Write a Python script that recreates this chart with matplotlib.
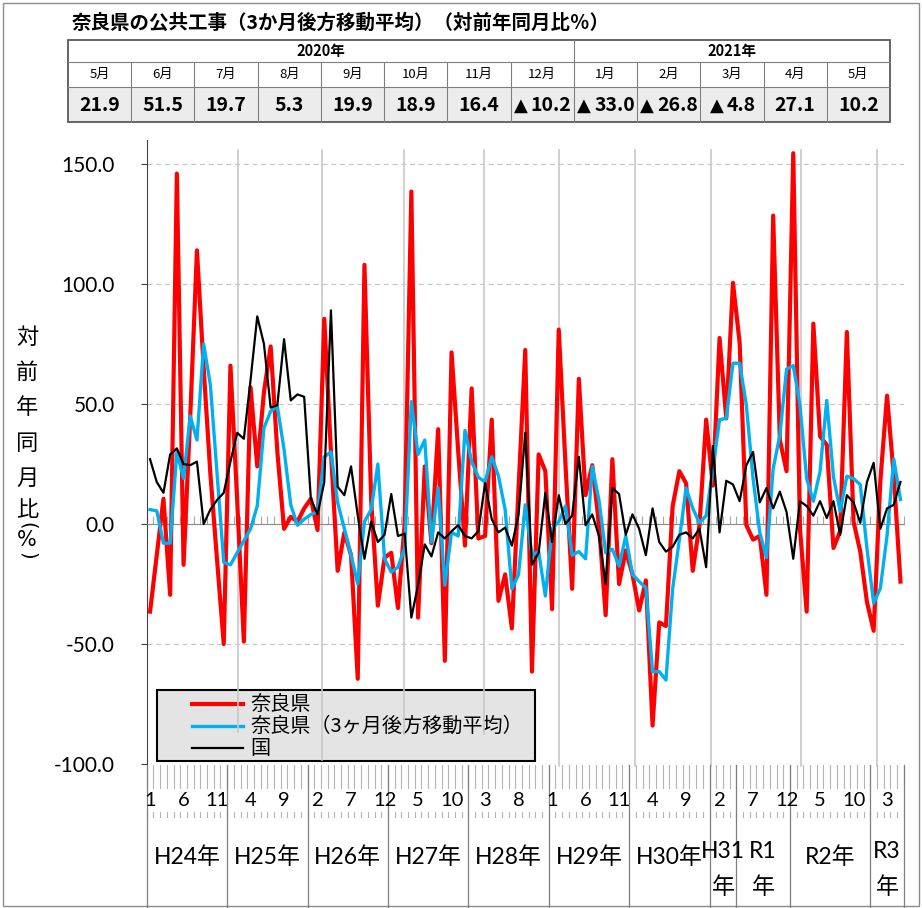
import numpy as np
import matplotlib.pyplot as plt
import matplotlib.transforms as mtransforms
from matplotlib.patches import Rectangle
from matplotlib.lines import Line2D

plt.rcParams['font.family'] = ['Noto Sans CJK JP', 'DejaVu Sans']

# 対前年同月比（%） H24年1月 ～ R3年5月
nara = [-36.5, -13, 10.5, -29.5, 146, -17, 45, 114, 65, 21, -15, -50,
        66, 10, -49, 57, 24, 55, 74, 30, -2, 3, 1, 6.5,
        10.5, -2.5, 85.5, 30, -19.5, -3.5, -13, -64.5, 108, 10, -34, -14,
        -12, -35, 0, 138.5, -39, 24, -8, 39.5, -57, 71.5, 30, -9,
        56.5, -6, -5, 43.5, -32, -21, -43.5, 15, 72.5, -61.5, 29, 22,
        -35.5, 81, 25, -27, 60.5, 12, 24.5, 0, -38, 27, -25, -11,
        -21, -36, -23.5, -84, -41, -42.5, 7.5, 22, 17, -19.5, -0.5, 43.5,
        16, 77.5, 44, 100.5, 75.5, -0.5, -6.5, -5, -29.5, 128.5, 35, 22,
        154.5, -2, -36.5, 83.5, 36.5, 33, -10, -3, 80, 1, -11.5, -32.5,
        -44.5, 18, 53.5, 20, -24]

nara_3m = [6, 5.5, -8, -8, 30, 19, 45, 35, 75, 58, 21, -16,
           -17, -12, -7, -2, 7.5, 40, 47, 49, 31, 8, -0.5, 2,
           4, 5, 28, 30, 9, -2, -13, -25, 1, 6, 25, -14.5,
           -20, -18, -10, 51, 29, 35, -7.5, 15, -25.5, -3.5, -5, 39,
           26, 19.5, 17.5, 28, 20, 6, -27, -21, 8, -13, -11.5, -30,
           -2, 1, 7.5, -13, -11.5, -14.5, 24, 10, -12, -10.5, -17.5, -5,
           -21, -24, -26.5, -61.5, -61.5, -65, -27, -6.5, 15, 6.5, 0.5, 3.5,
           23, 43.5, 44, 67, 67, 49.5, 19, -3.5, -14, 23, 37, 64.5,
           66, 49.5, 19, 9.5, 21.9, 51.5, 19.7, 5.3, 19.9, 18.9, 16.4, -10.2,
           -33.0, -26.8, -4.8, 27.1, 10.2]

kuni = [27, 17.5, 13, 29, 31.5, 25, 24.5, 26, 0, 6, 10, 13,
        26, 38, 35.5, 60, 86.5, 75, 48.5, 49.5, 77, 51.5, 54, 53,
        10.5, 4, 17.5, 89, 15.5, 12, 24, 3.5, -14.5, 1, -7.5, -4.5,
        12.5, -5, -4, -39, -25.5, -8.5, -13.5, -3.5, -6, -3, -0.5, -5,
        -6, -3, 17, 2, -3.5, -1.5, -9, 4, 38, -17, -12, 13,
        -7.5, 12, 0, 3.5, 28, -0.5, 4, -5, -25, 15, 12.5, -4.5,
        4, -2, -13, 6.5, -7.5, -11.5, -9.5, -4.5, -3.5, -6, -2, -18,
        32.5, -3.5, 18, 16.5, 9.5, 24.5, 30, 9, 15, 6.5, 13.5, 5,
        -14.5, 9.5, 7.5, 3.5, 9.5, 2.5, 9.5, -4.5, 12, 9, 0.5, 17.5,
        25.5, -2, 6.5, 8, 17.5]

series_names = ['奈良県', '奈良県（3ヶ月後方移動平均）', '国']
series_colors = ['#ff0000', '#00b0f0', '#000000']

start_month = 1
year_labels = ['H24年', 'H25年', 'H26年', 'H27年', 'H28年', 'H29年', 'H30年',
               'H31\n年', 'R1\n年', 'R2年', 'R3\n年']
year_starts = [0, 12, 24, 36, 48, 60, 72, 84, 88, 96, 108]

table_title = '奈良県の公共工事（3か月後方移動平均）（対前年同月比％）'
table_years = ['2020年', '2021年']
table_year_cols = [8, 5]
table_months = ['5月', '6月', '7月', '8月', '9月', '10月', '11月', '12月',
                '1月', '2月', '3月', '4月', '5月']
table_values = nara_3m[-13:]

W, H = 922, 908
fig = plt.figure(figsize=(W / 100, H / 100), dpi=100)
px = mtransforms.Affine2D().scale(1 / W, -1 / H).translate(0, 1) + fig.transFigure
renderer = fig.canvas.get_renderer()

LAT = ['Lato', 'Noto Sans CJK JP']

# 外枠
fig.add_artist(Rectangle((3, 3), 916, 903, transform=px, fill=False,
                         edgecolor='#8c8c8c', lw=1))

# タイトルと表
fig.text(72, 23, table_title, transform=px, fontsize=14, fontweight='bold',
         va='center', ha='left')

tx0, tx1 = 68, 890
ty = [40, 62, 87, 122]
cw = (tx1 - tx0) / len(table_months)
fig.add_artist(Rectangle((tx0, ty[2]), tx1 - tx0, ty[3] - ty[2], transform=px,
                         facecolor='#ececec', edgecolor='none'))
for yy in ty[1:3]:
    fig.add_artist(Line2D([tx0, tx1], [yy, yy], transform=px, color='#7f7f7f', lw=0.8))
for k in range(1, len(table_months)):
    fig.add_artist(Line2D([tx0 + k * cw] * 2, [ty[1], ty[3]], transform=px,
                          color='#7f7f7f', lw=0.8))
c = 0
for name, n in zip(table_years, table_year_cols):
    if c > 0:
        fig.add_artist(Line2D([tx0 + c * cw] * 2, [ty[0], ty[1]], transform=px,
                              color='#7f7f7f', lw=0.8))
    fig.text(tx0 + (c + n / 2) * cw, (ty[0] + ty[1]) / 2, name, transform=px,
             ha='center', va='center', fontsize=10.5, fontweight='bold')
    c += n
fig.add_artist(Rectangle((tx0, ty[0]), tx1 - tx0, ty[3] - ty[0], transform=px,
                         fill=False, edgecolor='#595959', lw=1.3))
for k, (m, v) in enumerate(zip(table_months, table_values)):
    cx = tx0 + (k + 0.5) * cw
    cy = (ty[2] + ty[3]) / 2 + 1
    fig.text(cx, (ty[1] + ty[2]) / 2, m, transform=px, ha='center', va='center',
             fontsize=9.5)
    if v >= 0:
        fig.text(cx, cy, f'{v:.1f}', transform=px, ha='center', va='center',
                 fontsize=14, fontweight='bold')
    else:
        t = fig.text(cx + 9, cy, f'{abs(v):.1f}', transform=px, ha='center',
                     va='center', fontsize=14, fontweight='bold')
        left = t.get_window_extent(renderer).x0
        fig.text(left / fig.dpi / fig.get_figwidth() * W - 3, cy, '▲', transform=px,
                 ha='right', va='center', fontsize=13, family='DejaVu Sans')

# グラフ
ax = fig.add_axes([146.7 / W, 1 - 764 / H, (903.8 - 146.7) / W, (764 - 140) / H])
x = np.arange(len(nara))
for vals, col, lw, z in zip([nara, nara_3m, kuni], series_colors, [3.0, 2.4, 1.6], [3, 4, 5]):
    ax.plot(x, vals, color=col, lw=lw, zorder=z)

ax.set_xlim(-0.5, len(nara) - 0.5)
ax.set_ylim(-100, 160)
yt = np.arange(-100, 151, 50)
ax.set_yticks(yt)
ax.set_yticklabels([f'{v:.1f}' for v in yt], family=LAT, fontsize=15)
ax.tick_params(axis='y', direction='out', length=4, pad=19, color='#404040')
ax.set_xticks(np.arange(-0.5, len(nara), 1))
ax.tick_params(axis='x', direction='in', length=6, width=0.8, color='#a6a6a6',
               labelbottom=False)
ax.spines[['top', 'right']].set_visible(False)
ax.spines['bottom'].set_position(('data', 0))
ax.spines['bottom'].set_color('#8c8c8c')
ax.spines['left'].set_color('#404040')
ax.yaxis.grid(True, color='#c8c8c8', ls=(0, (4, 3)), lw=0.9)
ax.set_axisbelow(True)

# 凡例
ax.add_patch(Rectangle((157, 690), 378, 71, transform=px, facecolor='#e4e4e4',
                       edgecolor='black', lw=1.5, zorder=1.5, clip_on=False))
for k, (name, col, lw) in enumerate(zip(series_names, series_colors, [3.0, 2.4, 1.6])):
    yy = 704 + 22 * k
    ax.add_line(Line2D([192, 243], [yy, yy], transform=px, color=col, lw=lw,
                       zorder=1.6, clip_on=False))
    ax.text(250, yy, name, transform=px, va='center', ha='left', fontsize=14.5,
            zorder=1.6, clip_on=False)

# 縦の区切り線
for gx, gb in zip([238, 321.7, 403.7, 484, 559, 635, 710.7, 801, 876.7],
                  [732, 760, 734, 734, 766, 766, 766, 766, 766]):
    ax.add_line(Line2D([gx, gx], [150, gb], transform=px, color='#c8c8c8', lw=1.2,
                       zorder=1.7, clip_on=False))

ax.set_xlim(-0.5, len(nara) - 0.5)
ax.set_ylim(-100, 160)

# 縦軸ラベル
for ch, yy in zip('対前年同月比', [337, 372, 408, 443, 478, 509]):
    fig.text(27, yy, ch, transform=px, ha='center', va='center', fontsize=16)
for ch, yy, rot, fs in [('(', 526, -90, 14), ('%', 540, 0, 15), (')', 556, -90, 14)]:
    fig.text(27, yy, ch, transform=px, ha='center', va='center', fontsize=fs,
             rotation=rot, family='DejaVu Sans')

# 横軸（月・年）
x0p, dx = 146.7, 6.7
for k in range(len(nara) + 1):
    xx = x0p + k * dx
    for a, b in [(765, 788), (812, 817)]:
        fig.add_artist(Line2D([xx, xx], [a, b], transform=px, color='#b4b4b4', lw=0.8))
for i in range(0, len(nara), 5):
    m = (start_month - 1 + i) % 12 + 1
    fig.text(x0p + (i + 0.5) * dx, 801, str(m), transform=px, ha='center',
             va='center', fontsize=14.5, family=LAT)
ends = year_starts[1:] + [len(nara)]
for s in year_starts + [len(nara)]:
    xx = x0p + s * dx
    fig.add_artist(Line2D([xx, xx], [765, 908], transform=px, color='#7f7f7f', lw=0.9))
for lab, s, e in zip(year_labels, year_starts, ends):
    cx = x0p + (s + e) / 2 * dx
    parts = lab.split('\n')
    if len(parts) == 1:
        fig.text(cx, 857, lab, transform=px, ha='center', va='center', fontsize=16.5,
                 family=LAT)
    else:
        for p, yy in zip(parts, [851, 887]):
            fig.text(cx, yy, p, transform=px, ha='center', va='center', fontsize=16.5,
                     family=LAT)

fig.savefig('out.png', dpi=100)
